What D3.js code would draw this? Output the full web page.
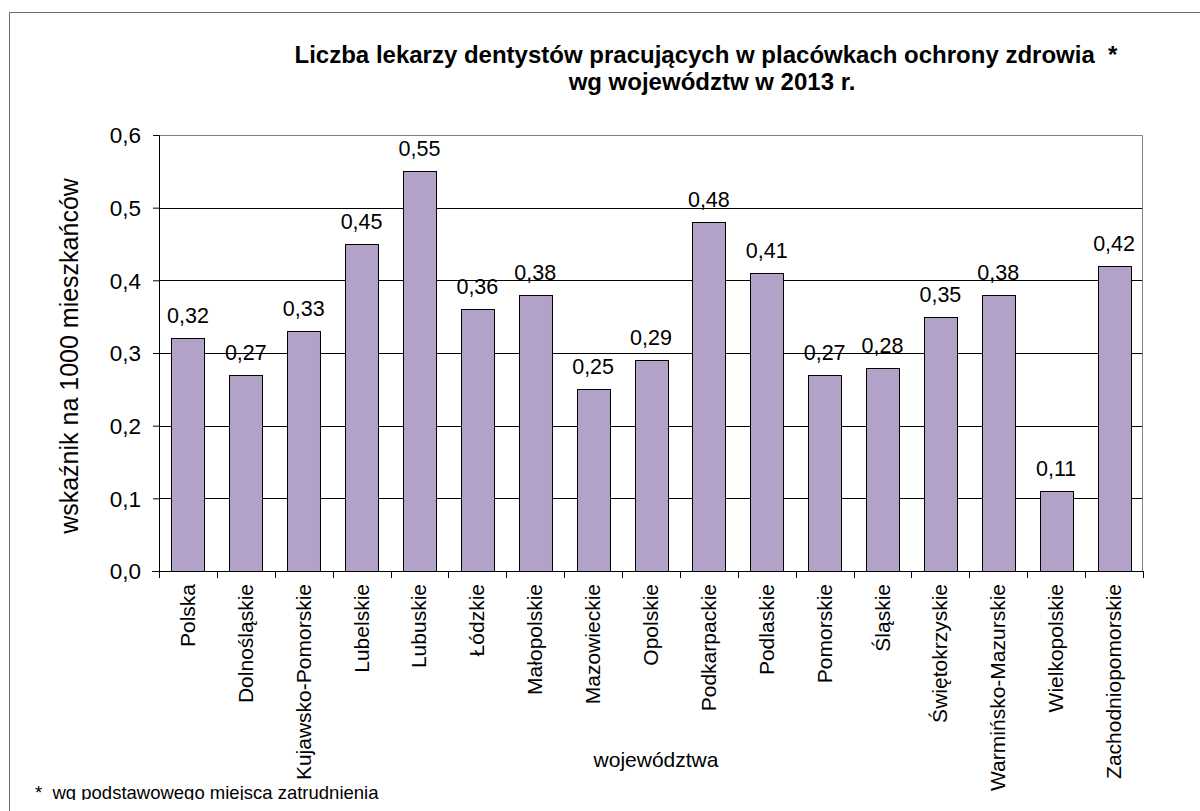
<!DOCTYPE html>
<html>
<head>
<meta charset="utf-8">
<script src="https://cdn.jsdelivr.net/npm/d3@7"></script>
<style>
  body { margin: 0; background: #fff; }
  svg { display: block; font-family: "Liberation Sans", Arial, sans-serif; }
</style>
</head>
<body>
<div id="chart"></div>
<script>
const width = 1200,
    height = 811;

// data
const categories = ["Polska", "Dolnośląskie", "Kujawsko-Pomorskie", "Lubelskie", "Lubuskie",
    "Łódzkie", "Małopolskie", "Mazowieckie", "Opolskie", "Podkarpackie", "Podlaskie",
    "Pomorskie", "Śląskie", "Świętokrzyskie", "Warmińsko-Mazurskie", "Wielkopolskie",
    "Zachodniopomorskie"];
const values = [0.32, 0.27, 0.33, 0.45, 0.55, 0.36, 0.38, 0.25, 0.29, 0.48, 0.41,
    0.27, 0.28, 0.35, 0.38, 0.11, 0.42];
const yTicks = [0, 0.1, 0.2, 0.3, 0.4, 0.5, 0.6];

const titleLines = ["Liczba lekarzy dentystów pracujących w placówkach ochrony zdrowia  *",
    "wg województw w 2013 r."];

const margin = {left: 159, right: 57, top: 135, bottom: 240};
const plotW = width - margin.left - margin.right,
    plotH = height - margin.top - margin.bottom;

const fmt = v => d3.format(".2f")(v).replace(".", ",");
const fmtTick = v => d3.format(".1f")(v).replace(".", ",");

const svg = d3.select("#chart")
    .append("svg")
    .attr("width", width)
    .attr("height", height);

// outer frame (runs off the picture on right and bottom)
svg.append("rect")
    .attr("x", 9.5).attr("y", 12.5)
    .attr("width", 1300).attr("height", 1000)
    .attr("fill", "none")
    .attr("stroke", "#6e6e6e");

// footnote is cut at the bottom in the original
svg.append("clipPath").attr("id", "cut")
    .append("rect").attr("x", 0).attr("y", 0).attr("width", width).attr("height", 800);

const x = d3.scaleBand()
    .domain(categories)
    .range([0, plotW])
    .paddingInner(0.43)
    .paddingOuter(0.215);

const y = d3.scaleLinear()
    .domain([0, 0.6])
    .range([plotH, 0]);

const g = svg.append("g")
    .attr("transform", `translate(${margin.left},${margin.top})`);

// gridlines
g.append("g").selectAll("line")
    .data(yTicks.slice(1, -1))
    .enter().append("line")
    .attr("x1", 0).attr("x2", plotW)
    .attr("y1", d => Math.round(y(d)) + 0.5)
    .attr("y2", d => Math.round(y(d)) + 0.5)
    .attr("stroke", "#000");

// plot border top/right
g.append("path")
    .attr("d", `M0,0.5H${plotW - 0.5}V${plotH}`)
    .attr("fill", "none")
    .attr("stroke", "#808080");

// bars
g.append("g").selectAll("rect")
    .data(values)
    .enter().append("rect")
    .attr("x", (d, i) => Math.round(x(categories[i])) + 0.5)
    .attr("y", d => Math.round(y(d)) + 0.5)
    .attr("width", x.bandwidth())
    .attr("height", d => plotH - Math.round(y(d)))
    .attr("fill", "#b3a2c7")
    .attr("stroke", "#000");

// value labels
g.append("g").selectAll("text")
    .data(values)
    .enter().append("text")
    .attr("x", (d, i) => x(categories[i]) + x.bandwidth() / 2)
    .attr("y", d => y(d) - 15)
    .attr("text-anchor", "middle")
    .style("font-size", "21.5px")
    .text(d => fmt(d));

// y axis
const yAxis = g.append("g")
    .call(d3.axisLeft(y).tickValues(yTicks).tickSize(6).tickPadding(12).tickFormat(fmtTick));
yAxis.select(".domain").attr("stroke", "#000");
yAxis.selectAll("text").style("font-size", "22.5px").attr("fill", "#000")
    .attr("font-family", null).attr("dy", "0.35em");

// x axis, ticks on band edges
const xAxisG = g.append("g").attr("transform", `translate(0,${plotH})`);
xAxisG.append("line")
    .attr("x1", -7).attr("x2", plotW)
    .attr("y1", 0.5).attr("y2", 0.5)
    .attr("stroke", "#000");
xAxisG.selectAll(".tk")
    .data(d3.range(categories.length + 1))
    .enter().append("line")
    .attr("class", "tk")
    .attr("x1", i => Math.round(i * x.step()) + 0.5)
    .attr("x2", i => Math.round(i * x.step()) + 0.5)
    .attr("y1", 0).attr("y2", 7)
    .attr("stroke", "#000");
xAxisG.selectAll(".lbl")
    .data(categories)
    .enter().append("text")
    .attr("class", "lbl")
    .attr("transform", d => `translate(${x(d) + x.bandwidth() / 2 + 7},13) rotate(-90)`)
    .attr("text-anchor", "end")
    .style("font-size", "21px")
    .text(d => d);

// titles
const title = svg.append("text")
    .attr("x", 706)
    .attr("y", 63)
    .attr("text-anchor", "middle")
    .style("font-size", "24px")
    .style("font-weight", "bold");
title.selectAll("tspan")
    .data(titleLines)
    .enter().append("tspan")
    .attr("x", (d, i) => i ? 712 : 706)
    .attr("dy", (d, i) => i ? 27 : 0)
    .style("white-space", "pre")
    .text(d => d);

svg.append("text")
    .attr("transform", `translate(78,356) rotate(-90)`)
    .attr("text-anchor", "middle")
    .style("font-size", "25px")
    .text("wskaźnik na 1000 mieszkańców");

svg.append("text")
    .attr("x", 656)
    .attr("y", 767)
    .attr("text-anchor", "middle")
    .style("font-size", "21px")
    .text("województwa");

svg.append("text")
    .attr("x", 35)
    .attr("y", 799)
    .attr("clip-path", "url(#cut)")
    .style("font-size", "18.5px")
    .style("white-space", "pre")
    .text("*  wg podstawowego miejsca zatrudnienia");
</script>
</body>
</html>
